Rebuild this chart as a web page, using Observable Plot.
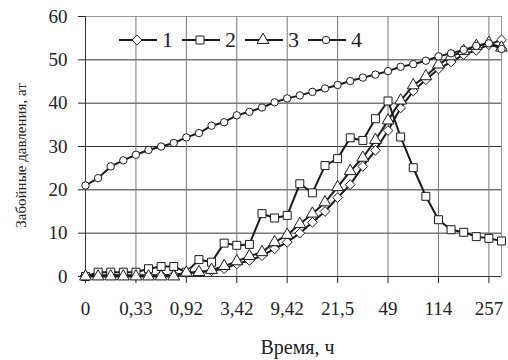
<!DOCTYPE html>
<html><head><meta charset="utf-8">
<script src="https://cdn.jsdelivr.net/npm/d3@7"></script>
<script src="https://cdn.jsdelivr.net/npm/@observablehq/plot@0.6"></script>
<style>
body{margin:0;background:#fff;font-family:'Liberation Serif';}
#wrap{position:relative;width:508px;height:360px;}
#legend{position:absolute;left:119px;top:28px;height:24px;font-family:'Liberation Serif';font-size:22px;color:#222;display:flex;align-items:center;}
#legend span{margin:0 9px 0 5px;line-height:24px;}
#legend svg{display:block;}
</style></head><body><div id="wrap"><div id="legend"></div></div>
<script>
const tickIndex = [0,4,8,12,16,20,24,28,32];
const tickLabels = ["0","0,33","0,92","3,42","9,42","21,5","49","114","257"];
const yTicks = [0,10,20,30,40,50,60];
const xTitle = "Время, ч";
const yTitle = "Забойные давления, ат";
const seriesNames = ["1","2","3","4"];
const seriesSymbols = ["diamond2","square","triangle","circle"];
const s1 = [0.3,0.3,0.3,0.3,0.3,0.3,0.3,0.4,0.8,1.0,1.3,1.8,2.9,3.7,4.8,6.4,7.9,10.0,12.5,15.0,18.2,21.2,25.4,29.1,33.7,38.9,42.8,45.4,47.9,49.5,51.2,52.2,53.5,54.6];
const s2 = [0,1.0,1.0,1.0,1.0,1.8,2.3,2.3,1.0,3.9,3.3,7.7,7.2,7.4,14.5,13.5,14.1,21.4,19.3,25.6,27.2,32.0,31.4,36.4,40.5,32.2,25.1,18.5,13.1,10.8,10.2,9.2,8.8,8.2];
const s3 = [0,0,0,0,0,0,0,0,0.9,1.0,1.5,2.4,3.5,4.7,5.6,7.9,9.6,12.1,14.5,17.1,20.6,24.3,27.4,31.5,36.0,40.6,44.1,46.2,48.9,50.8,52.0,53.2,53.9,52.8];
const s4 = [21.0,22.7,25.4,26.8,28.1,29.2,30.0,30.8,32.1,33.1,34.8,35.6,37.2,38.0,39.0,40.2,41.1,41.8,42.6,43.4,44.2,45.1,45.9,46.6,47.4,48.4,49.0,49.8,50.8,51.5,52.3,53.2,53.8,52.5];

const allSeries = [s1,s2,s3,s4];
const radii = {diamond2:4.4, square:4.5, triangle:4.4, circle:3.7};
const ink = "#1a1a1a";
const serif = "Liberation Serif";

const seriesMarks = [];
allSeries.forEach((vals, k) => {
  const data = vals.map((v, i) => ({i, v}));
  seriesMarks.push(Plot.line(data, {x:"i", y:"v", stroke:ink, strokeWidth:2}));
  seriesMarks.push(Plot.dot(data, {x:"i", y:"v", symbol: seriesSymbols[k], r: radii[seriesSymbols[k]], fill:"white", stroke:ink, strokeWidth:1}));
});

const chart = Plot.plot({
  width: 508, height: 360,
  marginLeft: 85, marginRight: 7, marginTop: 16, marginBottom: 84,
  style: {fontSize: "19px", color: "#222", background: "#fff"},
  x: {domain: [0, 33], axis: null},
  y: {domain: [0, 60], axis: null},
  marks: [
    Plot.gridY(yTicks.filter(d => d > 0 && d < 60), {stroke: "#333", strokeOpacity: 1}),
    Plot.ruleY([60], {stroke: "#999"}),
    Plot.gridX(tickIndex.slice(1), {stroke: "#777", strokeOpacity: 1}),
    Plot.ruleX([33], {stroke: "#999"}),
    Plot.axisX(tickIndex, {tickFormat: d => tickLabels[tickIndex.indexOf(d)], tickSize: 7, tickPadding: 18, fontSize: 19, fontFamily: serif, label: null}),
    Plot.axisY(yTicks, {tickSize: 7, tickPadding: 11, fontSize: 19, fontFamily: serif, label: null}),
    Plot.ruleY([0], {stroke: "#333"}),
    Plot.ruleX([0], {stroke: "#333"}),
    ...seriesMarks,
    Plot.text([xTitle], {text: d => d, frameAnchor: "bottom", textAnchor: "middle", lineAnchor: "middle", dx: 4, dy: 71, fontSize: 20, fontFamily: serif, fill: "#222"}),
    Plot.text([yTitle], {text: d => d, frameAnchor: "left", textAnchor: "middle", lineAnchor: "middle", rotate: -90, dx: -64, dy: 9, fontSize: 15, fontFamily: serif, fill: "#222"})
  ]
});
d3.select(chart).selectAll("text").attr("font-family", serif);
document.getElementById("wrap").prepend(chart);

// legend inside plot
const leg = d3.select("#legend");
const typeMap = {diamond2: d3.symbolDiamond2, square: d3.symbolSquare, triangle: d3.symbolTriangle, circle: d3.symbolCircle};
seriesNames.forEach((name, k) => {
  const svg = leg.append("svg").attr("width", 38).attr("height", 16);
  svg.append("line").attr("x1", 0).attr("x2", 38).attr("y1", 8).attr("y2", 8).attr("stroke", ink).attr("stroke-width", 2);
  const r = radii[seriesSymbols[k]];
  svg.append("path").attr("transform", "translate(18,8)")
    .attr("d", d3.symbol(typeMap[seriesSymbols[k]], Math.PI * r * r)())
    .attr("fill", "white").attr("stroke", ink).attr("stroke-width", 1);
  leg.append("span").text(name);
});
</script>
</body></html>
